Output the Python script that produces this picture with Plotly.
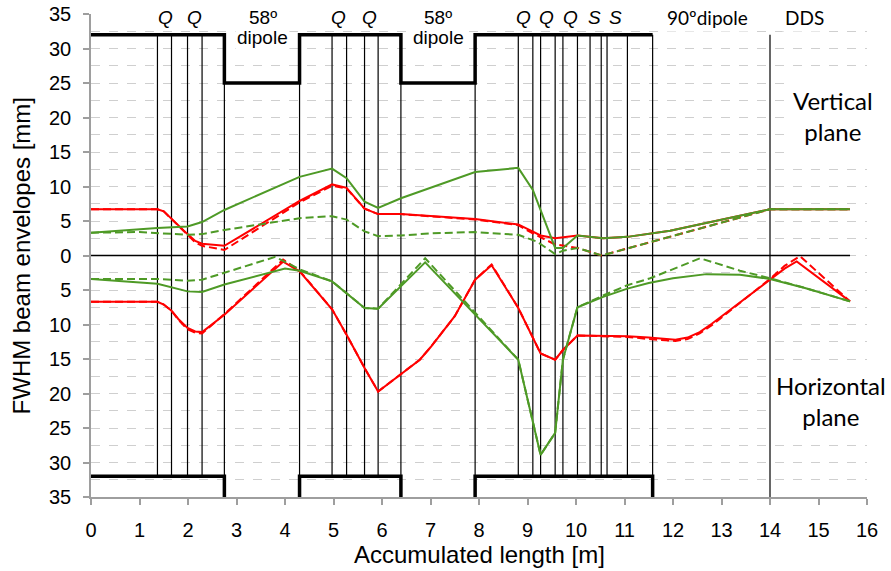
import plotly.graph_objects as go

# ---------------- data ----------------
# element boundaries (thin vertical lines) [m]
edges_x = [1.37, 1.66, 1.99, 2.29, 2.75, 4.30, 4.97, 5.27, 5.64, 5.92, 6.39,
           7.92, 8.81, 9.11, 9.27, 9.57, 9.73, 10.03, 10.29, 10.52, 10.64, 11.06, 11.58]
edge_top, edge_bot = 32, -32
dds_x = 14.0
dds_top, dds_bot = 32, -35

# magnet layout (thick black)
mag_top_x = [0, 2.75, 2.75, 4.30, 4.30, 6.39, 6.39, 7.92, 7.92, 11.58]
mag_top_y = [32, 32, 25, 25, 32, 32, 25, 25, 32, 32]
mag_bot_x = [0, 2.75, 2.75, None, 4.30, 4.30, 6.39, 6.39, None, 7.92, 7.92, 11.58, 11.58]
mag_bot_y = [-32, -32, -35, None, -35, -32, -32, -35, None, -35, -32, -32, -35]

# beam axis
axis_x = [0, 15.65]
axis_y = [0, 0]

# vertical plane (positive)
v_red_x = [0, 1.37, 1.5, 1.66, 1.8, 1.99, 2.15, 2.29, 2.75, 4.30, 4.97, 5.27, 5.64, 5.92,
           6.39, 7.92, 8.81, 9.27, 9.57, 10.03, 10.56, 11.06, 11.94, 14.0, 15.65]
v_red_y = [6.7, 6.7, 6.4, 5.3, 4.3, 3.1, 2.1, 1.7, 1.4, 7.9, 10.3, 9.8, 6.8, 6.0,
           6.0, 5.3, 4.5, 2.9, 2.5, 2.9, 2.5, 2.7, 3.6, 6.7, 6.7]
v_red_d_x = [0, 1.37, 1.5, 1.66, 1.8, 1.99, 2.15, 2.29, 2.75, 4.30, 4.97, 5.27, 5.64, 5.92,
             6.39, 7.92, 8.81, 9.11, 9.57, 10.03, 10.53, 14.0, 15.65]
v_red_d_y = [6.7, 6.7, 6.4, 5.3, 4.3, 3.0, 1.9, 1.4, 0.8, 7.7, 10.1, 9.7, 6.8, 6.0,
             6.0, 5.2, 4.4, 3.2, 1.6, 1.1, 0.0, 6.7, 6.7]
v_grn_x = [0, 1.37, 1.99, 2.29, 2.75, 4.30, 4.97, 5.27, 5.64, 5.92, 6.39, 7.92, 8.81,
           9.11, 9.57, 9.73, 10.03, 10.56, 11.06, 11.94, 14.0, 15.65]
v_grn_y = [3.3, 4.0, 4.2, 4.85, 6.6, 11.4, 12.6, 11.2, 7.8, 6.9, 8.3, 12.1, 12.7,
           9.5, 1.1, 1.1, 2.9, 2.5, 2.7, 3.6, 6.7, 6.7]
v_grn_d_x = [0, 1.0, 1.99, 2.29, 2.75, 4.30, 4.97, 5.27, 5.64, 5.92, 6.39, 7.0, 7.92,
             8.81, 9.2, 9.57, 9.73, 10.03, 10.53, 14.0, 15.65]
v_grn_d_y = [3.3, 3.4, 3.0, 3.1, 3.7, 5.4, 5.7, 5.2, 3.5, 2.8, 2.9, 3.2, 3.4,
             3.0, 2.0, 0.2, 0.7, 1.1, 0.0, 6.7, 6.7]

# horizontal plane (plotted negative)
h_red_x = [0, 1.37, 1.5, 1.66, 1.8, 1.99, 2.15, 2.29, 2.75, 3.96, 4.30, 4.97, 5.27, 5.64,
           5.92, 6.39, 6.78, 7.0, 7.5, 7.92, 8.26, 8.81, 9.27, 9.57, 9.73, 10.03, 10.56,
           11.06, 11.5, 11.8, 12.05, 12.3, 12.55, 12.8, 13.1, 13.38, 13.7, 14.0, 14.3, 14.55, 15.65]
h_red_y = [-6.7, -6.7, -7.1, -8.0, -9.2, -10.5, -11.0, -11.1, -8.6, -0.9, -2.3, -7.8, -11.5, -16.3,
           -19.7, -17.2, -15.1, -13.3, -8.8, -3.5, -1.4, -7.6, -14.2, -15.1, -13.7, -11.6, -11.6,
           -11.7, -11.9, -12.1, -12.2, -11.9, -11.1, -9.9, -8.3, -6.9, -5.2, -3.5, -1.9, -0.85, -6.65]
h_red_d_x = [0, 1.37, 1.5, 1.66, 1.8, 1.99, 2.15, 2.29, 2.75, 3.96, 4.30, 4.97, 5.27, 5.64,
             5.92, 6.39, 6.78, 7.0, 7.5, 7.92, 8.26, 8.81, 9.27, 9.57, 9.73, 10.03, 10.56,
             11.06, 11.5, 11.8, 12.05, 12.3, 12.55, 12.8, 13.1, 13.38, 13.7, 14.0, 14.3, 14.62, 15.65]
h_red_d_y = [-6.7, -6.7, -7.1, -8.0, -9.3, -10.7, -11.2, -11.3, -8.5, -0.6, -2.2, -7.8, -11.5, -16.3,
             -19.7, -17.2, -15.1, -13.3, -8.8, -3.5, -1.3, -7.6, -14.2, -15.1, -13.7, -11.6, -11.7,
             -11.8, -12.1, -12.3, -12.4, -12.1, -11.3, -10.1, -8.4, -6.9, -5.1, -3.4, -1.5, -0.1, -6.65]
h_grn_x = [0, 1.37, 1.99, 2.29, 2.75, 4.0, 4.30, 4.97, 5.64, 5.92, 6.89, 8.81, 9.27, 9.57,
           9.73, 10.03, 10.56, 11.06, 11.5, 12.0, 12.69, 13.38, 14.0, 14.72, 15.65]
h_grn_y = [-3.4, -4.1, -5.2, -5.3, -4.2, -1.9, -2.2, -3.75, -7.6, -7.7, -1.0, -15.1, -28.9, -25.7,
           -15.1, -7.5, -6.0, -4.8, -4.0, -3.3, -2.7, -2.8, -3.4, -4.7, -6.65]
h_grn_d_x = [0, 1.37, 1.99, 2.29, 2.75, 3.8, 4.30, 4.97, 5.64, 5.92, 6.89, 8.81, 9.27, 9.57,
             9.73, 10.03, 10.56, 11.06, 11.53, 12.0, 12.56, 13.38, 14.0, 14.72, 15.65]
h_grn_d_y = [-3.4, -3.4, -3.65, -3.5, -2.5, -0.2, -2.0, -3.75, -7.6, -7.7, -0.4, -15.1, -28.9, -25.7,
             -15.1, -7.5, -5.8, -4.3, -3.3, -2.0, -0.4, -2.2, -3.3, -4.7, -6.65]

# labels
top_labels = ["Q", "Q", "Q", "Q", "Q", "Q", "Q", "S", "S"]
top_labels_x = [1.53, 2.13, 5.10, 5.75, 8.91, 9.40, 9.88, 10.38, 10.82]
label_row_y = 34.5
dipole_labels_x = [3.54, 7.16]
dipole_line1, dipole_line2 = "58º", "dipole"
dipole_line2_y = 31.6
other_labels = ["90ºdipole", "DDS"]
other_labels_x = [12.72, 14.71]

y_ticks = list(range(-35, 36, 5))
y_ticktext = [str(abs(v)) for v in y_ticks]
y_minor = [v + 2.5 for v in range(-35, 35, 5)]

RED = "#FF0000"
GREEN = "#4E9A26"
ARIAL = "Liberation Sans, Arial, sans-serif"
CALIBRI = "Lato, Carlito, sans-serif"

fig = go.Figure()

# thin element lines
vx, vy = [], []
for xv in edges_x:
    vx += [xv, xv, None]
    vy += [edge_top, edge_bot, None]
vx += [dds_x, dds_x]
vy += [dds_top, dds_bot]
fig.add_trace(go.Scatter(x=vx, y=vy, mode="lines", line=dict(color="black", width=1.2),
                         hoverinfo="skip", showlegend=False))
fig.add_trace(go.Scatter(x=axis_x, y=axis_y, mode="lines", line=dict(color="black", width=1.3),
                         hoverinfo="skip", showlegend=False))

def add_line(x, y, color, dash=None):
    fig.add_trace(go.Scatter(x=x, y=y, mode="lines",
                             line=dict(color=color, width=2, dash=dash or "solid"),
                             hoverinfo="skip", showlegend=False))

DASH = "8px,4px"
add_line(v_red_x, v_red_y, RED)
add_line(v_red_d_x, v_red_d_y, RED, DASH)
add_line(h_red_x, h_red_y, RED)
add_line(h_red_d_x, h_red_d_y, RED, DASH)
add_line(v_grn_x, v_grn_y, GREEN)
add_line(v_grn_d_x, v_grn_d_y, GREEN, DASH)
add_line(h_grn_x, h_grn_y, GREEN)
add_line(h_grn_d_x, h_grn_d_y, GREEN, DASH)

# magnets
fig.add_trace(go.Scatter(x=mag_top_x, y=mag_top_y, mode="lines", line=dict(color="black", width=3.5),
                         hoverinfo="skip", showlegend=False))
fig.add_trace(go.Scatter(x=mag_bot_x, y=mag_bot_y, mode="lines", line=dict(color="black", width=3.5),
                         hoverinfo="skip", showlegend=False, connectgaps=False))

ann = []
for t, xv in zip(top_labels, top_labels_x):
    ann.append(dict(x=xv, y=label_row_y, text=t, showarrow=False, bgcolor="white", borderpad=1,
                    font=dict(family=ARIAL, size=19, color="black", style="italic")))
for xv in dipole_labels_x:
    ann.append(dict(x=xv, y=label_row_y, text=dipole_line1, showarrow=False, bgcolor="white", borderpad=1,
                    font=dict(family=ARIAL, size=19, color="black")))
    ann.append(dict(x=xv, y=dipole_line2_y, text=dipole_line2, showarrow=False, bgcolor="white", borderpad=1,
                    font=dict(family=ARIAL, size=19, color="black")))
for t, xv in zip(other_labels, other_labels_x):
    ann.append(dict(x=xv, y=label_row_y, text=t, showarrow=False, bgcolor="white", borderpad=2,
                    font=dict(family=CALIBRI, size=19, color="black")))
ann.append(dict(x=15.3, y=20.2, text="Vertical<br>plane", showarrow=False, bgcolor="white", borderpad=8,
                font=dict(family=CALIBRI, size=24, color="black")))
ann.append(dict(x=15.26, y=-21.1, text="Horizontal<br>plane", showarrow=False, bgcolor="white", borderpad=4,
                font=dict(family=CALIBRI, size=24, color="black")))
ann.append(dict(xref="paper", yref="paper", x=-0.089, y=0.5, text="FWHM beam envelopes [mm]",
                textangle=-90, showarrow=False, xanchor="center", yanchor="middle",
                font=dict(family=ARIAL, size=24, color="black")))
ann.append(dict(xref="paper", yref="paper", x=0.5, y=-0.1195, text="Accumulated length [m]",
                showarrow=False, xanchor="center", yanchor="middle",
                font=dict(family=ARIAL, size=24, color="black")))

fig.update_layout(
    width=891, height=571, autosize=False,
    margin=dict(l=91, r=24, t=14, b=74),
    paper_bgcolor="white", plot_bgcolor="white",
    annotations=ann,
    xaxis=dict(range=[0, 16], tickmode="linear", tick0=0, dtick=1, showgrid=False, zeroline=False,
               showline=True, linecolor="#9E9E9E", linewidth=1.5, ticks="outside", ticklen=6,
               tickcolor="#9E9E9E", tickwidth=1.5, ticklabelstandoff=8, automargin=False,
               tickfont=dict(family=ARIAL, size=20, color="black")),
    yaxis=dict(range=[-35, 35], tickmode="array", tickvals=y_ticks, ticktext=y_ticktext,
               showgrid=True, gridcolor="#CFCFCF", griddash="dash", gridwidth=1, zeroline=False,
               showline=True, linecolor="#9E9E9E", linewidth=1.5, ticks="outside", ticklen=6,
               tickcolor="#9E9E9E", tickwidth=1.5, ticklabelstandoff=8, automargin=False,
               tickfont=dict(family=ARIAL, size=20, color="black"),
               minor=dict(tickmode="array", tickvals=y_minor, showgrid=True, gridcolor="#CFCFCF",
                          griddash="dash", gridwidth=1, ticks="")),
)

fig.write_html("out.html", config={"displayModeBar": False},
               post_script="document.body.style.margin='0';document.body.style.padding='0';")
